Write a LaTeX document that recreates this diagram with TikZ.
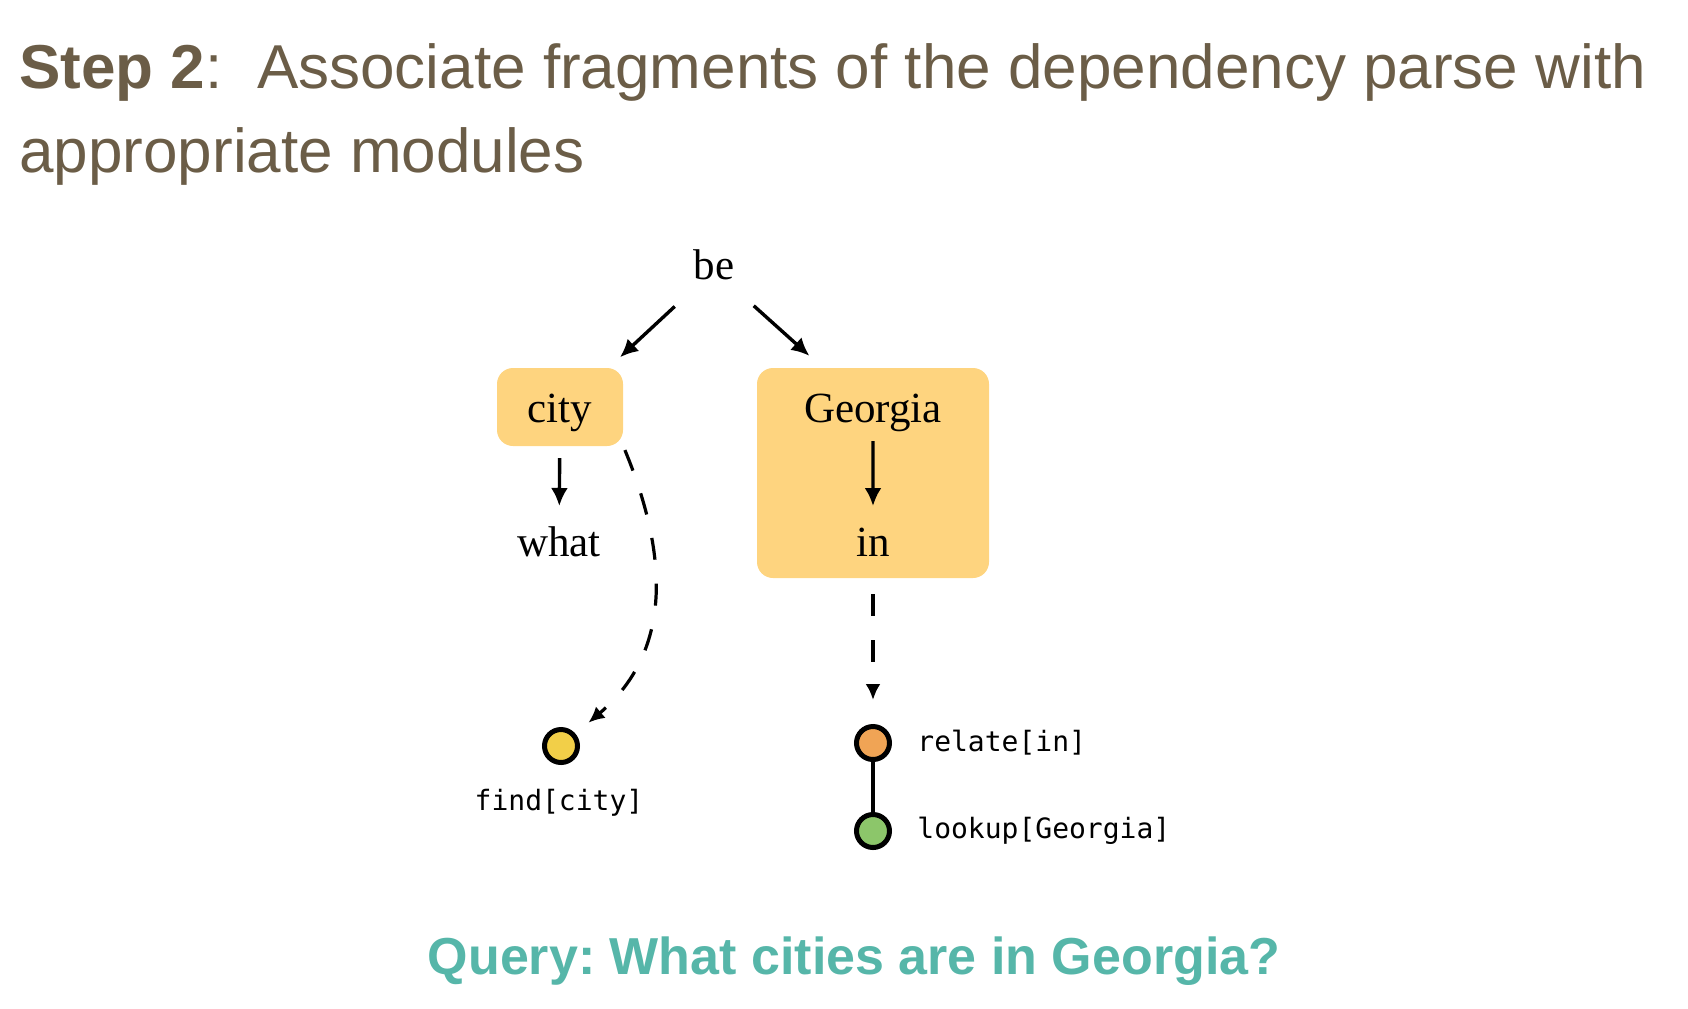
\documentclass[tikz,border=0pt]{standalone}
\usepackage{fontspec}
\setmainfont{Liberation Serif}
\newfontfamily\headfont{Liberation Sans}
\newfontfamily\modfont{DejaVu Sans Mono}
\usetikzlibrary{arrows.meta,calc}
\definecolor{headbrown}{HTML}{6B5D47}
\definecolor{queryteal}{HTML}{56B6A9}
\definecolor{boxorange}{HTML}{FED47F}
\definecolor{findyellow}{HTML}{F2CF48}
\definecolor{relateorange}{HTML}{F0A455}
\definecolor{lookupgreen}{HTML}{8CC66A}
\frenchspacing
\begin{document}
\begin{tikzpicture}[x=0.5pt,y=-0.5pt,
  heading/.style={anchor=base west,inner sep=0pt,text=headbrown,font=\headfont\fontsize{31}{31}\selectfont},
  word/.style={font=\fontsize{21.5}{21.5}\selectfont,text height=0.96em,text depth=0.04em,inner sep=0pt},
  fragbox/.style={fill=boxorange,rounded corners=8pt,inner sep=0pt},
  dep/.style={line width=1.7pt,-{Latex[length=9pt,width=8.5pt]}},
  assoc/.style={line width=1.6pt,dash pattern=on 11pt off 12pt,-{Latex[length=8pt,width=7.5pt]}},
  module/.style={circle,draw,line width=2.5pt,minimum size=16.5pt,inner sep=0pt},
  modlabel/.style={font=\modfont\fontsize{14}{14}\selectfont,inner sep=0pt}]
\useasboundingbox (0,0) rectangle (1688,1008);
\node[heading] (title1) at (19,88) {{\bfseries Step 2}:\ \ Associate fragments of the dependency parse with};
\node[heading] (title2) at (19,172) {appropriate modules};
\node[fragbox,minimum width=63pt,minimum height=39pt] (citybox) at (560,407) {};
\node[fragbox,minimum width=116pt,minimum height=105pt] (georgiabox) at (873,473) {};
\node[word] (be) at (714,270) {be};
\node[word] (city) at (560,413) {city};
\node[word] (what) at (559,547) {what};
\node[word] (georgia) at (873,413) {Georgia};
\node[word] (in) at (873,547) {in};
\draw[dep] ($(be)!0.255!(city)$) -- ($(be)!0.61!(city)$);
\draw[dep] ($(be)!0.25!(georgia)$) -- ($(be)!0.60!(georgia)$);
\draw[dep] ($(city)!0.336!(what)$) -- ($(city)!0.694!(what)$);
\draw[dep] ($(georgia)!0.21!(in)$) -- ($(georgia)!0.694!(in)$);
\node[module,fill=findyellow] (find) at (561,746) {};
\node[module,fill=relateorange] (relate) at (873,743) {};
\node[module,fill=lookupgreen] (lookup) at (873,831) {};
\draw[line width=2pt] (relate) -- (lookup);
\node[modlabel] (findlbl) at (559,803) {find[city]};
\node[modlabel,anchor=west] (relatelbl) at (917,743) {relate[in]};
\node[modlabel,anchor=west] (lookuplbl) at (917,831) {lookup[Georgia]};
\draw[assoc,shorten <=2pt,shorten >=8.5pt] (citybox.south east) .. controls (662,540) and (680,645) .. (find);
\draw[assoc,shorten <=8pt,shorten >=12pt] (georgiabox.south) -- (relate);
\node[anchor=base,inner sep=0pt,text=queryteal,font=\headfont\bfseries\fontsize{26}{26}\selectfont] (query) at (854,974) {Query: What cities are in Georgia?};
\end{tikzpicture}
\end{document}
